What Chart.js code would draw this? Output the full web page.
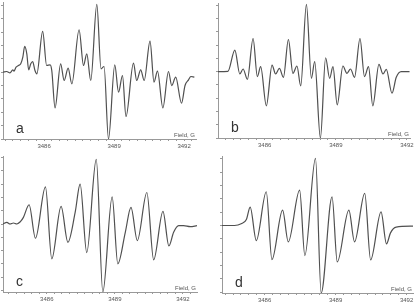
<!DOCTYPE html>
<html>
<head>
<meta charset="utf-8">
<script src="https://cdn.jsdelivr.net/npm/chart.js@4.4.1/dist/chart.umd.min.js"></script>
<style>
  html, body { margin: 0; padding: 0; background: #fff; }
  .wrap { position: relative; width: 416px; height: 308px; overflow: hidden; }
  canvas { position: absolute; }
</style>
</head>
<body>
<div class="wrap">
  <canvas id="chartA" width="208" height="154" style="left:0;top:0"></canvas>
  <canvas id="chartB" width="208" height="154" style="left:208px;top:0"></canvas>
  <canvas id="chartC" width="208" height="154" style="left:0;top:154px"></canvas>
  <canvas id="chartD" width="208" height="154" style="left:208px;top:154px"></canvas>
</div>
<script>
// field values (G) and signal (arb. units)
const fieldA = [3484.24, 3484.40, 3484.54, 3484.66, 3484.71, 3484.80, 3484.90, 3485.00, 3485.09, 3485.17,
  3485.26, 3485.34, 3485.43, 3485.51, 3485.61, 3485.69, 3485.94, 3486.11, 3486.26, 3486.33,
  3486.47, 3486.71, 3486.86, 3487.03, 3487.19, 3487.50, 3487.69, 3487.83, 3488.00, 3488.26,
  3488.44, 3488.57, 3488.76, 3489.03, 3489.19, 3489.36, 3489.51, 3489.83, 3489.97, 3490.14,
  3490.29, 3490.54, 3490.71, 3490.86, 3491.09, 3491.33, 3491.47, 3491.64, 3491.89, 3492.04,
  3492.19, 3492.29, 3492.44];
const signalA = [0, 2, -2, 7, 3, 15, 20, 25, 45, 77,
  55, 7, 25, 32, 5, -5, 122, 20, 22, 5,
  -107, 25, -25, 12, -35, 127, 20, 55, -25, 203,
  10, 17, -200, 22, -60, -10, -133, 27, -25, 7,
  -25, 93, -30, 3, -107, 2, -40, -15, -93, -40,
  -23, -13, -15];

const fieldB = [3484.03, 3484.45, 3484.74, 3484.95, 3485.09, 3485.27, 3485.51, 3485.69, 3485.83, 3486.07,
  3486.31, 3486.46, 3486.62, 3486.79, 3487.00, 3487.19, 3487.36, 3487.52, 3487.76, 3487.97,
  3488.11, 3488.35, 3488.57, 3488.74, 3488.88, 3489.06, 3489.30, 3489.47, 3489.62, 3489.79,
  3490.02, 3490.21, 3490.38, 3490.56, 3490.82, 3490.99, 3491.13, 3491.37, 3491.55, 3491.76,
  3492.11];
const signalB = [0, 1, 65, -7, 8, -23, 100, -15, 15, -103,
  20, -7, 10, -17, 97, -5, 17, -43, 203, -20,
  30, -200, 42, -20, 15, -100, 17, -5, 8, -17,
  100, -15, 15, -103, 22, -7, 7, -65, -17, 0,
  0];

const fieldC = [3484.07, 3484.24, 3484.38, 3484.53, 3484.68, 3484.82, 3484.97, 3485.22, 3485.50, 3485.94,
  3486.22, 3486.63, 3486.93, 3487.25, 3487.47, 3487.76, 3488.18, 3488.47, 3488.88, 3489.13,
  3489.46, 3489.71, 3489.99, 3490.41, 3490.71, 3491.12, 3491.38, 3491.59, 3491.81, 3492.03,
  3492.32, 3492.62];
const signalC = [0, 5, 0, 3, 0, 6, 20, 58, -43, 112,
  -105, 53, -55, 35, 120, -86, 195, -205, 82, -120,
  -25, 50, -50, 95, -108, 38, -66, -25, -5, -5,
  -8, -5];

const fieldD = [3484.20, 3484.73, 3485.01, 3485.23, 3485.39, 3485.65, 3486.07, 3486.31, 3486.76, 3487.00,
  3487.48, 3487.70, 3488.15, 3488.39, 3488.85, 3489.07, 3489.56, 3489.80, 3490.23, 3490.48,
  3490.92, 3491.15, 3491.32, 3491.56, 3492.27];
const signalD = [0, 0, 5, 18, 55, -45, 101, -102, 46, -49,
  106, -90, 201, -202, 86, -109, 46, -49, 96, -103,
  41, -55, -22, -5, -2];

const fieldLabels = [3486, 3489, 3492];

const panelLabels = {
  id: 'panelLabels',
  afterDraw(chart, args, opts) {
    const { ctx, chartArea } = chart;
    ctx.save();
    ctx.fillStyle = '#333';
    ctx.font = '14px "Liberation Sans", Arial, sans-serif';
    ctx.textAlign = 'left';
    ctx.fillText(opts.letter, chartArea.left + 13, chartArea.bottom - 6);
    ctx.fillStyle = '#555';
    ctx.font = '6px "Liberation Sans", Arial, sans-serif';
    ctx.textAlign = 'right';
    ctx.fillText('Field, G', chartArea.right - 1, chartArea.bottom - 2);
    ctx.restore();
  }
};

// minor ticks every 1/3 G, labels only on the 3 G marks
function thirdTicks(s) {
  const t = [];
  for (let k = Math.ceil(s.min * 3); k <= Math.floor(s.max * 3); k++) t.push({ value: k / 3 });
  s.ticks = t;
}

function makePanel(id, fields, signal, o) {
  const points = fields.map((f, i) => ({ x: f, y: signal[i] }));
  new Chart(document.getElementById(id), {
    type: 'line',
    data: {
      datasets: [{
        data: points,
        borderColor: '#505050',
        borderWidth: 1.2,
        pointRadius: 0,
        cubicInterpolationMode: 'monotone',
        fill: false
      }]
    },
    options: {
      responsive: false,
      animation: false,
      events: [],
      layout: { padding: o.pad },
      plugins: {
        legend: { display: false },
        tooltip: { enabled: false },
        panelLabels: { letter: o.letter }
      },
      scales: {
        x: {
          type: 'linear',
          min: o.xmin,
          max: o.xmax,
          afterBuildTicks: thirdTicks,
          afterFit: s => { s.height = 15; },
          border: { display: true, color: '#999', width: 1 },
          grid: { drawOnChartArea: false, drawTicks: true, tickLength: 2, color: '#999' },
          ticks: {
            autoSkip: false,
            maxRotation: 0,
            padding: 2,
            color: '#555',
            font: { size: 6, family: '"Liberation Sans", Arial, sans-serif' },
            callback: v => {
              const r = Math.round(v);
              return Math.abs(v - r) < 1e-6 && fieldLabels.includes(r) ? String(r) : '';
            }
          }
        },
        y: {
          min: o.ymin,
          max: o.ymax,
          afterFit: s => { s.width = 3; },
          border: { display: true, color: '#999', width: 1 },
          grid: { drawOnChartArea: false, drawTicks: true, tickLength: 2, color: '#999' },
          ticks: { display: false, stepSize: 40, includeBounds: false }
        }
      }
    },
    plugins: [panelLabels]
  });
}

makePanel('chartA', fieldA, signalA, {
  letter: 'a', xmin: 3484.24, xmax: 3492.51, ymin: -200, ymax: 210,
  pad: { left: 0, top: 2, right: 12, bottom: 0 }
});
makePanel('chartB', fieldB, signalB, {
  letter: 'b', xmin: 3484.03, xmax: 3492.13, ymin: -200, ymax: 207,
  pad: { left: 7, top: 3, right: 6, bottom: 1 }
});
makePanel('chartC', fieldC, signalC, {
  letter: 'c', xmin: 3484.07, xmax: 3492.62, ymin: -205, ymax: 205,
  pad: { left: 0, top: 2, right: 11, bottom: 1 }
});
makePanel('chartD', fieldD, signalD, {
  letter: 'd', xmin: 3484.20, xmax: 3492.27, ymin: -202, ymax: 208,
  pad: { left: 11, top: 2, right: 3, bottom: 0 }
});
</script>
</body>
</html>
